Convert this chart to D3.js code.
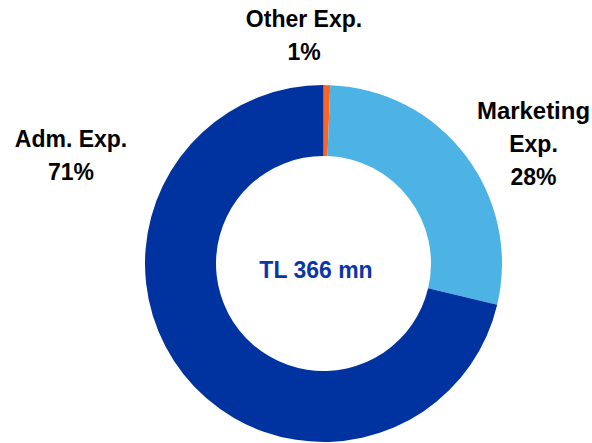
<!DOCTYPE html>
<html>
<head>
<meta charset="utf-8">
<script src="https://cdn.jsdelivr.net/npm/d3@7"></script>
<style>
  html, body { margin: 0; padding: 0; background: #fff; }
  svg { display: block; }
</style>
</head>
<body>
<svg id="chart" width="592" height="443"></svg>
<script>
// ---- data ----
const categories = ["Other Exp.", "Marketing Exp.", "Adm. Exp."];
const shares = [0.6, 28.1, 71.3];           // % of total
const percentLabels = ["1%", "28%", "71%"];
const totalLabel = "TL 366 mn";

// ---- styling / layout (not data) ----
const colors = ["#FF6521", "#4DB3E4", "#0033A0"];
const labelLines = [["Other Exp."], ["Marketing", "Exp."], ["Adm. Exp."]];
const labelPos = [ {x: 304, y: 26.7}, {x: 533.5, y: 119}, {x: 71, y: 146.7} ];
const lineGap = 32.8;

const svg = d3.select("#chart");
const cx = 323.5, cy = 263.5, rOuter = 178.5, rInner = 107.5;

const pie = d3.pie().sort(null).value(d => d).startAngle(0).endAngle(2 * Math.PI);
const arc = d3.arc().innerRadius(rInner).outerRadius(rOuter);

const g = svg.append("g").attr("transform", `translate(${cx},${cy})`);
g.selectAll("path")
  .data(pie(shares))
  .join("path")
  .attr("d", arc)
  .attr("fill", (d, i) => colors[i]);

const font = "'Liberation Sans', Arial, sans-serif";

labelLines.forEach((lines, i) => {
  const t = svg.append("text")
    .attr("text-anchor", "middle")
    .attr("font-family", font)
    .attr("font-weight", "bold")
    .attr("font-size", 23)
    .attr("fill", "#000");
  const all = lines.concat([percentLabels[i]]);
  all.forEach((s, k) => {
    const ts = t.append("tspan")
      .attr("x", labelPos[i].x)
      .attr("y", labelPos[i].y + k * lineGap)
      .text(s);
    if (s === "Marketing") ts.attr("textLength", 113).attr("lengthAdjust", "spacingAndGlyphs");
  });
});

svg.append("text")
  .attr("x", 316)
  .attr("y", 278.3)
  .attr("text-anchor", "middle")
  .attr("font-family", font)
  .attr("font-weight", "bold")
  .attr("font-size", 23)
  .attr("fill", "#0B36A6")
  .text(totalLabel);
</script>
</body>
</html>
